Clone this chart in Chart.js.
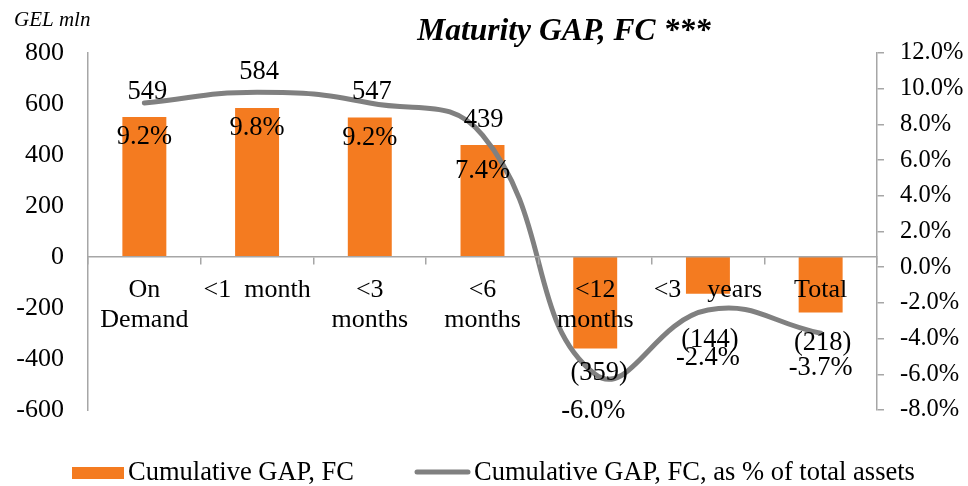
<!DOCTYPE html>
<html>
<head>
<meta charset="utf-8">
<script src="https://cdn.jsdelivr.net/npm/chart.js@4/dist/chart.umd.min.js"></script>
<style>
  html, body { margin: 0; padding: 0; background: #ffffff; }
  #wrap { width: 968px; height: 486px; position: relative; }
</style>
</head>
<body>
<div id="wrap"><canvas id="c" width="968" height="486"></canvas></div>
<script>
// ---- data ----
const categories = [["On", "Demand"], ["<1  month"], ["<3", "months"], ["<6", "months"], ["<12", "months"], ["<3    years"], ["Total"]];
const gapValues = [549, 584, 547, 439, -359, -144, -218];
const gapPctValues = [9.2, 9.8, 9.2, 7.4, -6.0, -2.4, -3.7];
const leftTicks = [-600, -400, -200, 0, 200, 400, 600, 800];
const rightTicks = [-8, -6, -4, -2, 0, 2, 4, 6, 8, 10, 12];
const seriesNames = ["Cumulative GAP, FC", "Cumulative GAP, FC, as % of total assets"];
const titleText = "Maturity GAP, FC ***";
const unitText = "GEL mln";

const ORANGE = "#F47B20";
const GREY = "#808080";
const AXIS = "#A6A6A6";
const FONT = "'Liberation Serif', 'Times New Roman', serif";

const labelPlugin = {
  id: "gapLabels",
  afterDatasetsDraw(chart, args, opts) {
    const ctx = chart.ctx;
    const barMeta = chart.getDatasetMeta(0);
    ctx.save();
    ctx.font = "26.5px " + FONT;
    ctx.fillStyle = "#000";
    ctx.textAlign = "center";
    ctx.textBaseline = "middle";
    barMeta.data.forEach((bar, i) => {
      const v = gapValues[i];
      const p = gapPctValues[i];
      const vTxt = v < 0 ? "(" + Math.abs(v) + ")" : String(v);
      const pTxt = p.toFixed(1) + "%";
      ctx.fillText(vTxt, bar.x + opts.valueDx[i], bar.y + opts.valueDy[i]);
      ctx.fillText(pTxt, bar.x + opts.pctDx[i], bar.y + opts.pctDy[i]);
    });
    ctx.restore();
  },
  afterDraw(chart, args, opts) {
    const ctx = chart.ctx;
    ctx.save();
    ctx.fillStyle = "#000";
    ctx.textBaseline = "middle";
    // title
    ctx.font = "bold italic 31.5px " + FONT;
    ctx.textAlign = "center";
    ctx.fillText(titleText, 564, 32);
    // unit
    ctx.font = "italic 21px " + FONT;
    ctx.textAlign = "left";
    ctx.fillText(unitText, 14, 20);
    // legend
    ctx.font = "26.5px " + FONT;
    ctx.fillStyle = chart.data.datasets[0].backgroundColor;
    ctx.fillRect(72, 467, 52, 12);
    ctx.fillStyle = "#000";
    ctx.fillText(chart.data.datasets[0].label, 128, 473);
    ctx.strokeStyle = chart.data.datasets[1].borderColor;
    ctx.lineWidth = 5;
    ctx.lineCap = "round";
    ctx.beginPath();
    ctx.moveTo(417, 472);
    ctx.lineTo(468, 472);
    ctx.stroke();
    ctx.fillText(chart.data.datasets[1].label, 474, 473);
    ctx.restore();
  }
};

new Chart(document.getElementById("c"), {
  data: {
    labels: categories,
    datasets: [
      {
        type: "bar",
        label: seriesNames[0],
        data: gapValues,
        backgroundColor: ORANGE,
        borderWidth: 0,
        yAxisID: "y",
        order: 2,
        barPercentage: 0.39,
        categoryPercentage: 1.0
      },
      {
        type: "line",
        label: seriesNames[1],
        data: gapPctValues,
        borderColor: GREY,
        borderWidth: 5,
        pointRadius: 0,
        tension: 0.45,
        fill: false,
        yAxisID: "y1",
        order: 1,
        borderCapStyle: "round"
      }
    ]
  },
  options: {
    responsive: false,
    animation: false,
    events: [],
    layout: { padding: { top: 53, bottom: 76, left: 0, right: 0 } },
    plugins: {
      legend: { display: false },
      tooltip: { enabled: false },
      title: { display: false },
      gapLabels: {
        valueDx: [3, 2, 2, 1, 4, 2, 2],
        valueDy: [-25, -36, -25, -25, 25, 46, 30],
        pctDx: [0, 0, 0, 0, -2, 0, 0],
        pctDy: [20, 20, 21, 26, 63, 64, 55]
      }
    },
    scales: {
      x: {
        position: { y: 0 },
        offset: true,
        grid: { display: true, drawOnChartArea: false, drawTicks: true, tickLength: 7, offset: true, color: AXIS, lineWidth: 1.5, z: 1 },
        border: { display: true, color: AXIS, width: 1.5, z: 1 },
        ticks: {
          z: 1,
          color: "#000",
          font: { family: FONT, size: 26, lineHeight: 1.15 },
          padding: 11,
          maxRotation: 0,
          autoSkip: false
        }
      },
      y: {
        position: "left",
        min: -600,
        max: 800,
        afterBuildTicks(scale) { scale.ticks = leftTicks.map(v => ({ value: v })); },
        afterFit(scale) { scale.width = 88; },
        grid: { display: false, drawTicks: false },
        border: { display: true, color: AXIS, width: 1.5 },
        ticks: {
          color: "#000",
          font: { family: FONT, size: 26 },
          padding: 24,
          callback: v => String(v)
        }
      },
      y1: {
        position: "right",
        min: -8,
        max: 12,
        afterBuildTicks(scale) { scale.ticks = rightTicks.map(v => ({ value: v })); },
        afterFit(scale) { scale.width = 91; },
        grid: { display: true, drawOnChartArea: false, drawTicks: true, tickLength: 7, color: AXIS, lineWidth: 1.5 },
        border: { display: true, color: AXIS, width: 1.5 },
        ticks: {
          color: "#000",
          font: { family: FONT, size: 24.5 },
          padding: 16,
          callback: v => Number(v).toFixed(1) + "%"
        }
      }
    }
  },
  plugins: [labelPlugin]
});
</script>
</body>
</html>
